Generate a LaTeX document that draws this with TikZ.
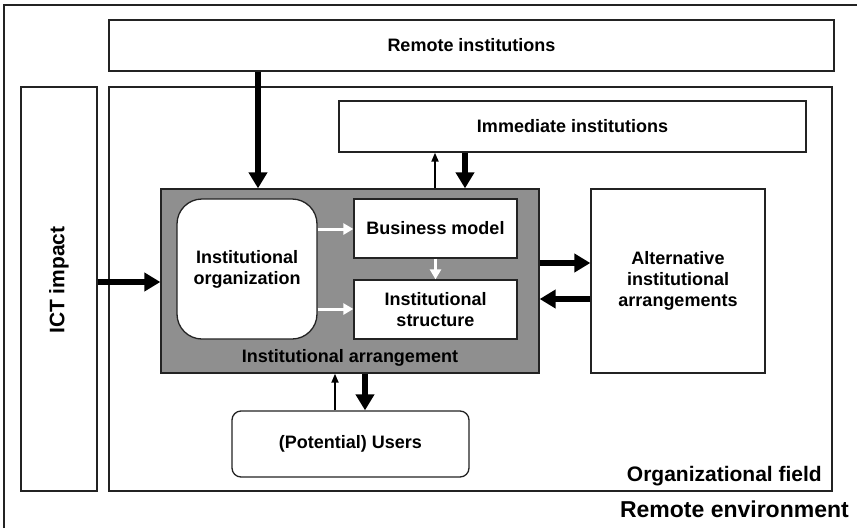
\documentclass[tikz,border=0pt]{standalone}
\usepackage{fontspec}
\setmainfont{Liberation Sans}
\usetikzlibrary{arrows.meta}
\definecolor{panelgray}{RGB}{143,143,143}
\definecolor{edge}{RGB}{35,35,35}
\begin{document}
\begin{tikzpicture}[x=1pt,y=-1pt,
  box/.style={draw=edge, line width=1.3pt, fill=white, inner sep=0pt,
    font=\bfseries\fontsize{18}{21}\selectfont, align=center},
  txt/.style={inner sep=0pt, font=\bfseries\fontsize{18}{21}\selectfont, align=center},
  bigtxt/.style={inner sep=0pt, font=\bfseries\fontsize{21}{24}\selectfont},
  bigarrow/.style={line width=6pt, -{Triangle[width=18pt,length=16pt]}},
  thinarrow/.style={line width=1.8pt, -{Triangle[width=7pt,length=9pt]}},
  whitearrow/.style={draw=white, line width=3pt, -{Triangle[width=11pt,length=10pt,fill=white]}}]

\useasboundingbox (0,0) rectangle (857,528);

% remote environment frame (open towards the page edges)
\draw[edge, line width=1.3pt] (4,528) -- (4,5) -- (857,5);

% outer boxes
\node[box, minimum width=725pt, minimum height=51pt] (remote) at (471.5,45.5) {Remote institutions};
\node[box, minimum width=76pt, minimum height=404pt] (ict) at (59,289) {};
\node[bigtxt, rotate=90] (ictlabel) at (59,280) {ICT impact};
\node[box, minimum width=723pt, minimum height=404pt] (field) at (470.5,289) {};
\node[box, minimum width=467pt, minimum height=51pt] (immediate) at (572.5,126.5) {Immediate institutions};

% institutional arrangement and its parts
\node[box, fill=panelgray, minimum width=378pt, minimum height=184pt] (arrangement) at (350,281) {};
\node[txt] (arrlabel) at (350,358) {Institutional arrangement};
\node[box, rounded corners=25pt, minimum width=140pt, minimum height=140pt] (org) at (247,269) {Institutional\\organization};
\node[box, minimum width=163pt, minimum height=59pt] (business) at (435.5,228.5) {Business model};
\node[box, minimum width=163pt, minimum height=59pt] (structure) at (435.5,309.5) {Institutional\\structure};

\node[box, minimum width=174pt, minimum height=184pt] (alternative) at (678,281) {Alternative\\institutional\\arrangements};
\node[box, rounded corners=9pt, minimum width=237pt, minimum height=66pt] (users) at (350.5,444) {(Potential) Users};

% field labels
\node[bigtxt, anchor=base east] (fieldlabel) at (822,481) {Organizational field};
\node[bigtxt, font=\bfseries\fontsize{23}{26}\selectfont, anchor=base east] (envlabel) at (849,517) {Remote environment};

% helper columns and rows for the connectors
\coordinate (xremote) at (258,0);
\coordinate (xup) at (435,0);
\coordinate (xdown) at (465,0);
\coordinate (xuserup) at (335,0);
\coordinate (xuserdown) at (365,0);
\coordinate (yict) at (0,282);
\coordinate (yout) at (0,263);
\coordinate (yin) at (0,299);
\coordinate (ywa) at (0,229);
\coordinate (ywb) at (0,309);

% connectors
\draw[bigarrow] (remote.south -| xremote) -- (arrangement.north -| xremote);
\draw[thinarrow] (arrangement.north -| xup) -- (immediate.south -| xup);
\draw[bigarrow] (immediate.south -| xdown) -- (arrangement.north -| xdown);
\draw[bigarrow] (ict.east |- yict) -- (arrangement.west |- yict);
\draw[bigarrow] (arrangement.east |- yout) -- (alternative.west |- yout);
\draw[bigarrow] (alternative.west |- yin) -- (arrangement.east |- yin);
\draw[thinarrow] (users.north -| xuserup) -- (arrangement.south -| xuserup);
\draw[bigarrow] (arrangement.south -| xuserdown) -- (users.north -| xuserdown);

\draw[whitearrow] (org.east |- ywa) -- (business.west |- ywa);
\draw[whitearrow] (org.east |- ywb) -- (structure.west |- ywb);
\draw[whitearrow] (business.south) -- (structure.north);
\end{tikzpicture}
\end{document}
